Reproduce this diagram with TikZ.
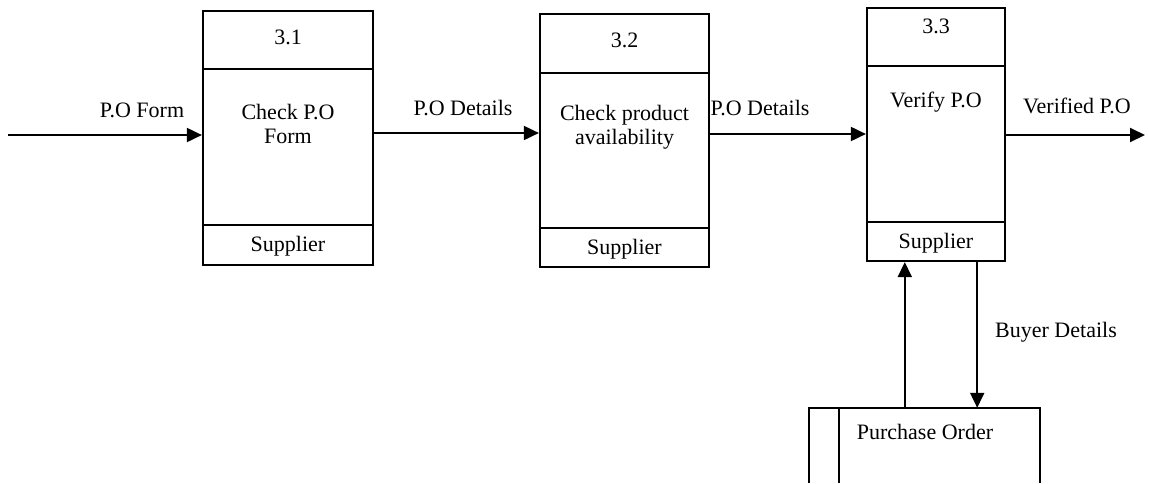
\documentclass[tikz,border=0pt]{standalone}
\usepackage{fontspec}
\setmainfont{Liberation Serif}
\usetikzlibrary{arrows.meta,calc}
\begin{document}
\begin{tikzpicture}[x=1pt,y=-1pt,
  box/.style={draw,line width=2.2pt,inner sep=0pt,rectangle},
  txt/.style={font=\fontsize{22}{24}\selectfont,inner sep=0pt,align=center},
  flow/.style={line width=1.9pt,-{Triangle[length=15pt,width=14pt]}}]
\useasboundingbox (0,0) rectangle (1149,483);
% process 3.1
\node[box,minimum width=170pt,minimum height=58pt] (h1) at (288,40) {};
\node[box,minimum width=170pt,minimum height=156pt] (b1) at (288,147) {};
\node[box,minimum width=170pt,minimum height=40pt] (f1) at (288,245) {};
\node[txt] (t1a) at (288,37) {3.1};
\node[txt] (t1b) at (288,124) {Check P.O\\Form};
\node[txt] (t1c) at (288,246) {Supplier};
% process 3.2
\node[box,minimum width=169pt,minimum height=59pt] (h2) at (624.5,43.5) {};
\node[box,minimum width=169pt,minimum height=155pt] (b2) at (624.5,150.5) {};
\node[box,minimum width=169pt,minimum height=39pt] (f2) at (624.5,247.5) {};
\node[txt] (t2a) at (624.5,40) {3.2};
\node[txt] (t2b) at (624.5,127) {Check product\\availability};
\node[txt] (t2c) at (624.5,249) {Supplier};
% process 3.3
\node[box,minimum width=138pt,minimum height=58pt] (h3) at (936,37) {};
\node[box,minimum width=138pt,minimum height=156pt] (b3) at (936,144) {};
\node[box,minimum width=138pt,minimum height=39pt] (f3) at (936,241.5) {};
\node[txt] (t3a) at (936,26) {3.3};
\node[txt] (t3b) at (936,102) {Verify P.O};
\node[txt] (t3c) at (936,243) {Supplier};
% data store
\node[minimum width=231pt,minimum height=75pt,inner sep=0pt] (po) at (924.5,445.5) {};
\draw[line width=2.2pt] (po.south west) -- (po.north west) -- (po.north east) -- (po.south east);
\draw[line width=2.2pt] ([xshift=30pt]po.north west) -- ([xshift=30pt]po.south west);
\node[txt] (t4) at (925,432) {Purchase Order};
% flows
\coordinate (src) at (8,135);
\coordinate (snk) at (1145,135);
\draw[flow] (src) -- (src -| b1.west);
\node[txt] (l1) at (142,110) {P.O Form};
\draw[flow] ([yshift=14pt]b1.east) -- ([yshift=14pt]b1.east -| b2.west);
\node[txt] (l2) at (463,108) {P.O Details};
\draw[flow] ([yshift=16.5pt]b2.east) -- ([yshift=16.5pt]b2.east -| b3.west);
\node[txt] (l3) at (760,108) {P.O Details};
\draw[flow] (snk -| b3.east) -- (snk);
\node[txt] (l4) at (1077,106) {Verified P.O};
\draw[flow] ([xshift=96pt]po.north west) -- ([xshift=96pt]po.north west |- f3.south);
\draw[flow] ([xshift=-63pt]po.north east |- f3.south) -- ([xshift=-63pt]po.north east);
\node[txt] (l5) at (1056,332) {Buyer Details};
\end{tikzpicture}
\end{document}
